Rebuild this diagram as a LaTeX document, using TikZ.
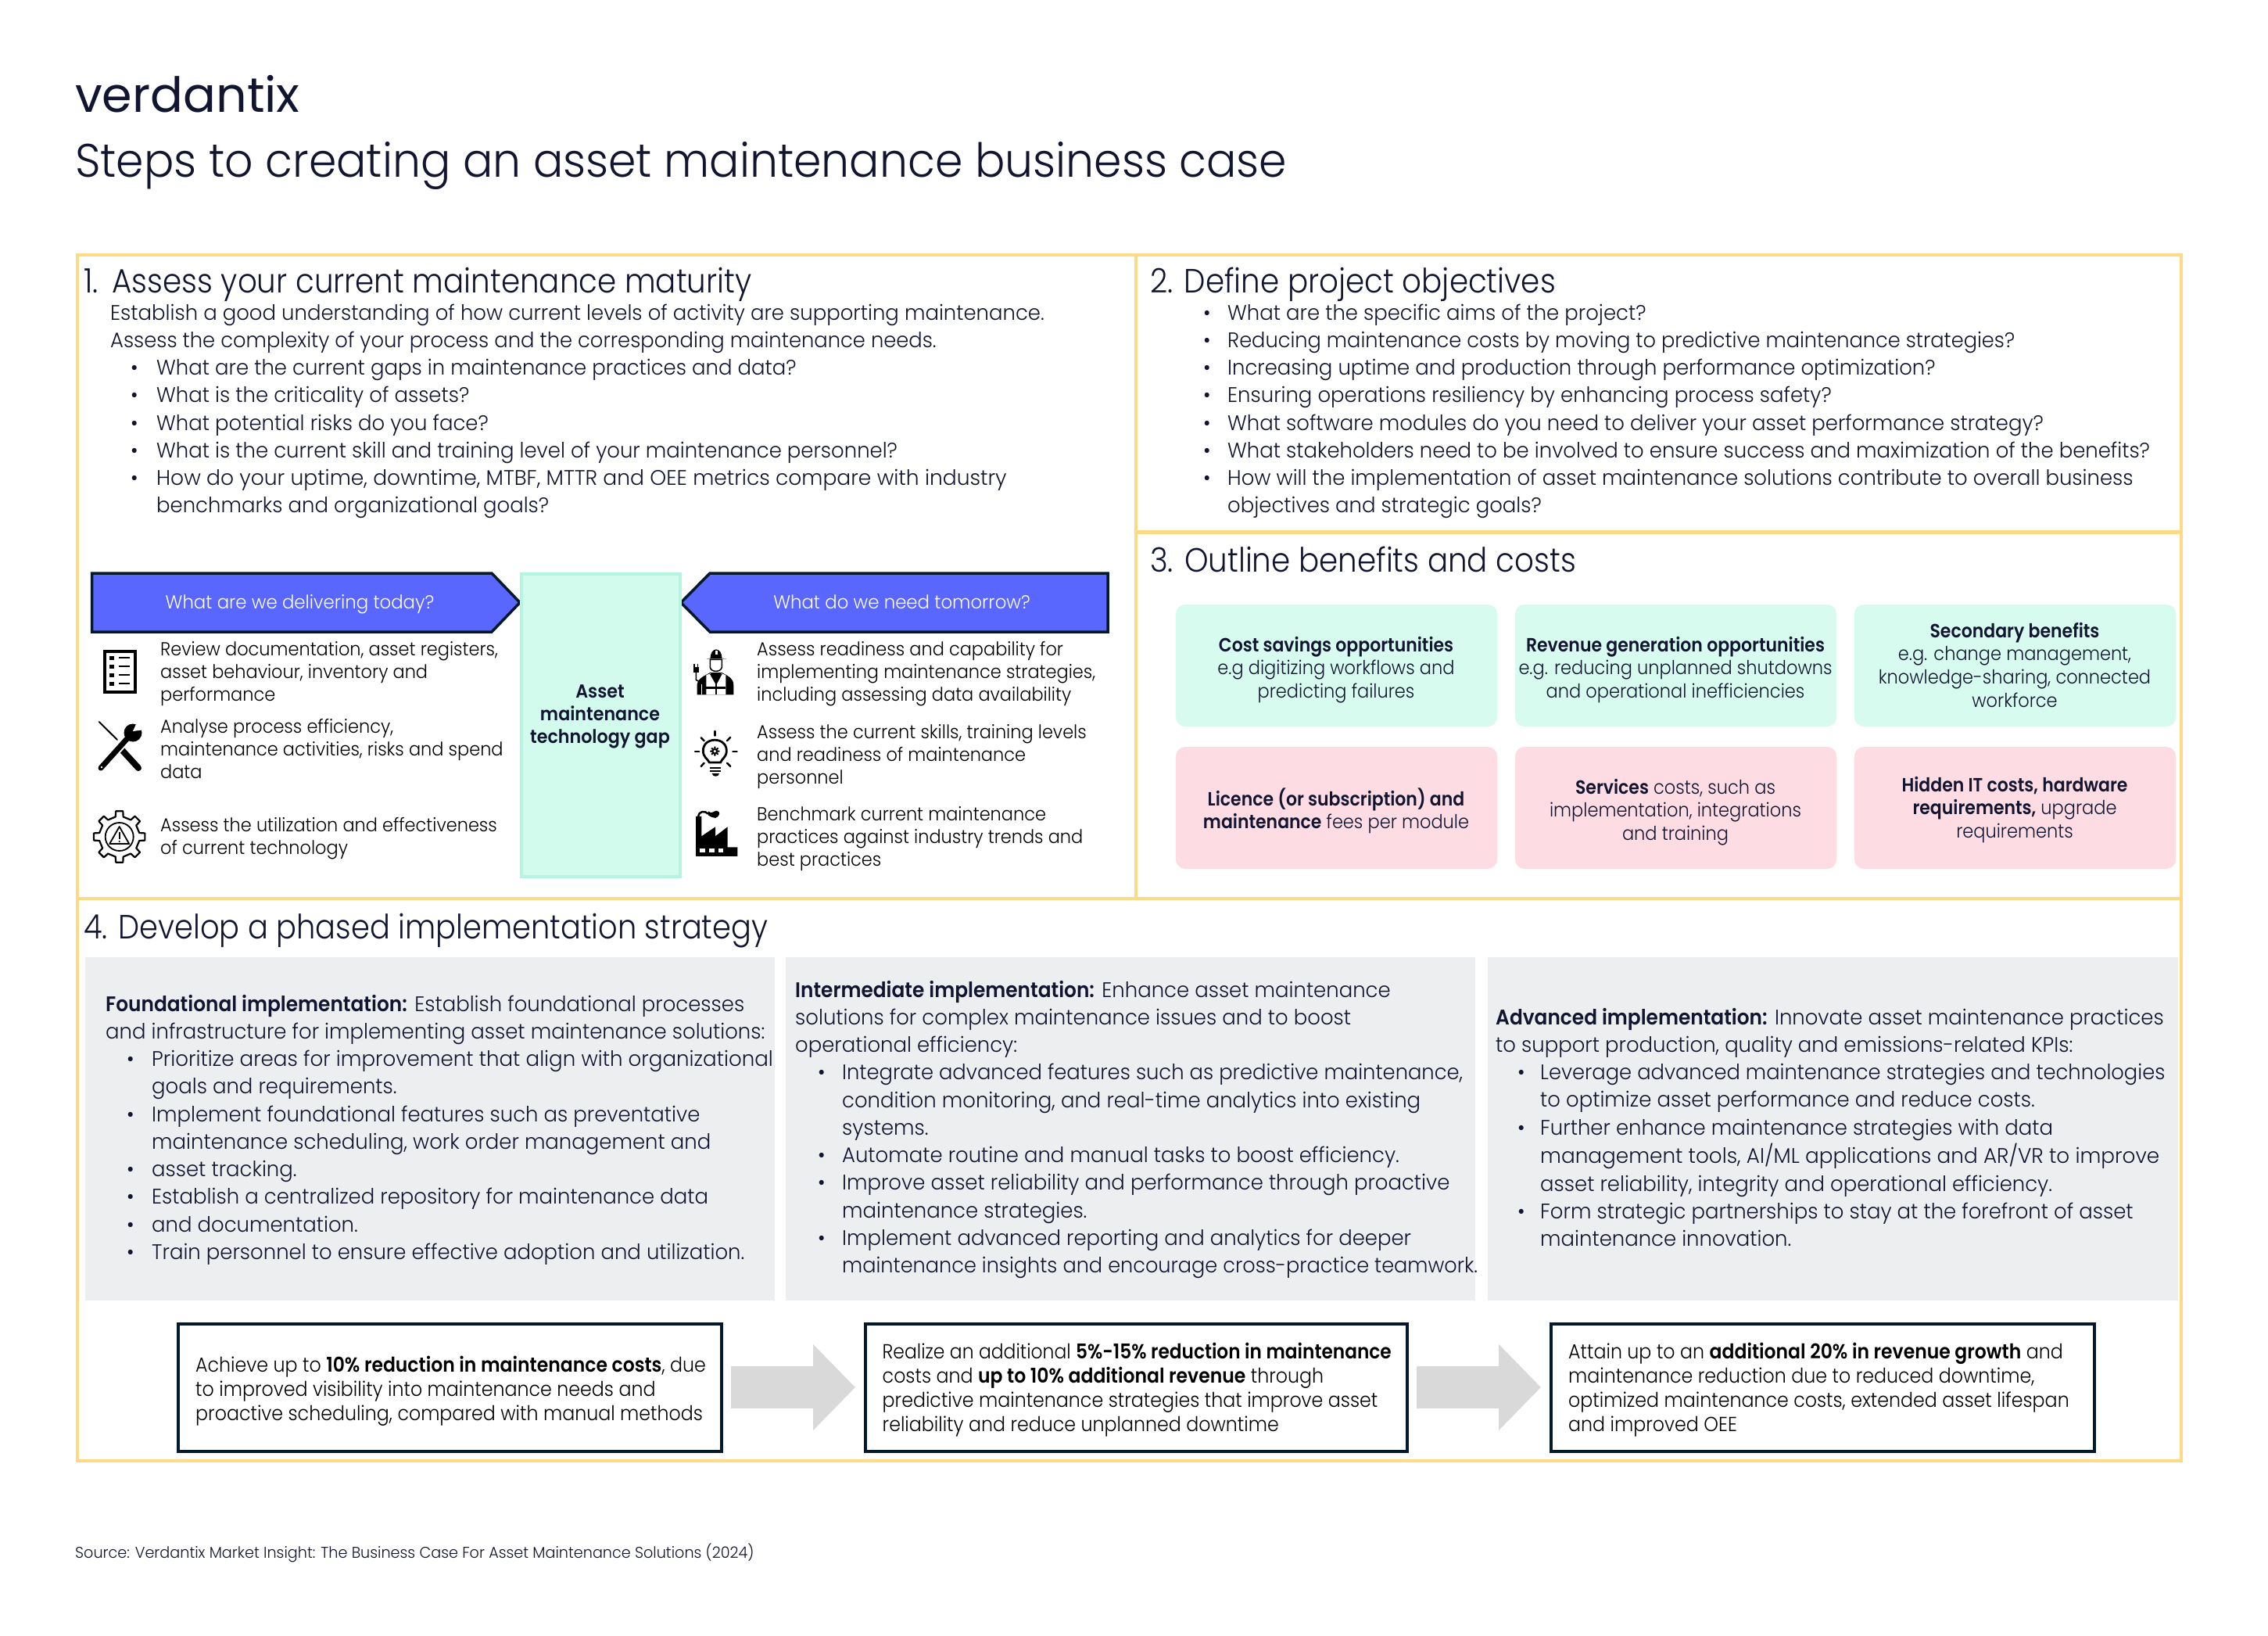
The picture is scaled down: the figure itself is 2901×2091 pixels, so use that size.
\documentclass[tikz,border=0pt]{standalone}
\usepackage{fontspec}
\usepackage{graphicx}
\usetikzlibrary{arrows.meta}
\setmainfont{Poppins}[UprightFont=* Light,BoldFont=* SemiBold,FakeStretch=0.96,BoldFeatures={FakeStretch=0.92}]
\newfontfamily\logofont{Poppins}[FakeStretch=1.0]
\newfontfamily\fTitle{Poppins}[UprightFont=* Light,FakeStretch=0.948]
\newfontfamily\fHead{Poppins}[UprightFont=* Light,FakeStretch=0.903]
\newfontfamily\fSmall{Poppins}[UprightFont=* Light,BoldFont=* SemiBold,FakeStretch=0.935,BoldFeatures={FakeStretch=0.926}]
\newfontfamily\fHdr{Poppins}[UprightFont=* Light,FakeStretch=0.952]
\newfontfamily\fCard{Poppins}[UprightFont=* Light,BoldFont=* SemiBold,FakeStretch=0.918,BoldFeatures={FakeStretch=0.898}]
\newfontfamily\fBox{Poppins}[UprightFont=* Light,BoldFont=* SemiBold,FakeStretch=0.912,BoldFeatures={FakeStretch=0.904}]
\newfontfamily\fSrc{Poppins}[UprightFont=* Light,FakeStretch=0.96]
\definecolor{ink}{HTML}{11152F}
\definecolor{frameY}{HTML}{FFD985}
\definecolor{hdrblue}{HTML}{5A67FF}
\definecolor{hdrline}{HTML}{04192B}
\definecolor{gapfill}{HTML}{D2FBEE}
\definecolor{gapline}{HTML}{B5F5E0}
\definecolor{cardG}{HTML}{D8FBEF}
\definecolor{cardP}{HTML}{FEDCE4}
\definecolor{panelG}{HTML}{EDEEF0}
\definecolor{arrG}{HTML}{D9D9D9}
\newcommand\Lb[1]{\hbox{\strut #1}}
\newcommand\Bl[1]{\hbox{\strut\hbox to \bulletgap{\textbullet\hss}#1}}
\newcommand\Cn[1]{\hbox{\strut\hskip\bulletgap #1}}
\newcommand\Cc[1]{\hbox to 0pt{\hss\strut #1\hss}}
\newcommand\Sx[2]{\scalebox{#1}[1]{#2}}
\newcommand\fsBody{\fontsize{27}{35.25}\selectfont}
\newcommand\fsHead{\fHead\fontsize{43}{50}\selectfont}
\newcommand\fsSmall{\fSmall\fontsize{24}{29.3}\selectfont}
\newcommand\fsHdr{\fHdr\fontsize{24}{29.3}\selectfont}
\newcommand\fsCard{\fCard\fontsize{24.5}{29.8}\selectfont}
\newcommand\fsBox{\fBox\fontsize{26}{31}\selectfont}
\newdimen\bulletgap
\tikzset{
  txt/.style={anchor=base west,inner sep=0pt,text=ink},
  ctr/.style={anchor=base,inner sep=0pt,text=ink},
  panel/.style={fill=panelG,draw=none,inner sep=0pt},
  cardg/.style={fill=cardG,draw=none,rounded corners=12pt,inner sep=0pt,minimum width=411pt,minimum height=156pt},
  cardp/.style={fill=cardP,draw=none,rounded corners=12pt,inner sep=0pt,minimum width=411pt,minimum height=156pt},
  resbox/.style={draw=hdrline,line width=4pt,fill=white,inner sep=0pt,minimum height=163pt},
  frameln/.style={draw=frameY,line width=4.5pt},
  hdrshape/.style={fill=hdrblue,draw=hdrline,line width=3.5pt,miter limit=8},
  blockarr/.style={draw=arrG,line width=53.7pt,-{Triangle[length=54pt 0 0,width=107pt 0 0,fill=arrG]}},
}
\begin{document}
\begin{tikzpicture}[x=1pt,y=-1pt]
\useasboundingbox (0,0) rectangle (2901,2091);
\fill[white] (0,0) rectangle (2901,2091);
% title
\node[txt,font=\logofont\fontsize{62}{62}\selectfont] (logo) at (96,143) {verdantix};
\node[txt,font=\fTitle\fontsize{60}{70}\selectfont] (title) at (96,226) {Steps to creating an asset maintenance business case};
% frame
\draw[frameln] (99,326) rectangle (2790,1868);
\draw[frameln] (1453,326) -- (1453,1149);
\draw[frameln] (1453,680.5) -- (2790,680.5);
\draw[frameln] (99,1149) -- (2790,1149);
% section headings
\node[txt,font=\fsHead] (h1) at (107,374) {1.\hskip 18pt Assess your current maintenance maturity};
\node[txt,font=\fsHead] (h2) at (1471,374) {2. Define project objectives};
\node[txt,font=\fsHead] (h3) at (1471,731) {3. Outline benefits and costs};
\node[txt,font=\fsHead] (h4) at (107,1200) {\Sx{0.988}{4. Develop a phased implementation strategy}};
% section 1 text
\bulletgap=59pt
\node[txt,font=\fsBody] (s1) at (141,409) {\vtop{
 \Lb{Establish a good understanding of how current levels of activity are supporting maintenance.}
 \Lb{\Sx{0.995}{Assess the complexity of your process and the corresponding maintenance needs.}}
 \Lb{\hskip 26pt\hbox to 33pt{\textbullet\hss}What are the current gaps in maintenance practices and data?}
 \Lb{\hskip 26pt\hbox to 33pt{\textbullet\hss}What is the criticality of assets?}
 \Lb{\hskip 26pt\hbox to 33pt{\textbullet\hss}What potential risks do you face?}
 \Lb{\hskip 26pt\hbox to 33pt{\textbullet\hss}What is the current skill and training level of your maintenance personnel?}
 \Lb{\hskip 26pt\hbox to 33pt{\textbullet\hss}\Sx{1.024}{How do your uptime, downtime, MTBF, MTTR and OEE metrics compare with industry}}
 \Lb{\hskip 59pt benchmarks and organizational goals?}}};
% section 2 text
\bulletgap=31pt
\node[txt,font=\fsBody] (s2) at (1539,409) {\vtop{
 \Bl{What are the specific aims of the project?}
 \Bl{\Sx{0.99}{Reducing maintenance costs by moving to predictive maintenance strategies?}}
 \Bl{Increasing uptime and production through performance optimization?}
 \Bl{Ensuring operations resiliency by enhancing process safety?}
 \Bl{What software modules do you need to deliver your asset performance strategy?}
 \Bl{What stakeholders need to be involved to ensure success and maximization of the benefits?}
 \Bl{How will the implementation of asset maintenance solutions contribute to overall business}
 \Cn{objectives and strategic goals?}}};
% header arrows
\draw[hdrshape] (117.5,733) -- (629,733) -- (665,770.5) -- (629,808) -- (117.5,808) -- cycle;
\draw[hdrshape] (1417,733) -- (908,733) -- (871,770.5) -- (908,808) -- (1417,808) -- cycle;
\node[ctr,text=white,font=\fsHdr] (today) at (383.5,778) {What are we delivering today?};
\node[ctr,text=white,font=\fsHdr] (tomorrow) at (1153.5,778) {What do we need tomorrow?};
% gap column
\node[fill=gapfill,draw=gapline,line width=4pt,inner sep=0pt,minimum width=203pt,minimum height=387pt] (gap) at (768.5,927.5) {};
\node[ctr,font=\fsSmall\bfseries] (gaptxt) at (767.5,892) {\vtop{\Cc{Asset}\Cc{maintenance}\Cc{technology gap}}};
% left column texts
\node[txt,text=black,font=\fsSmall] (l1) at (205,838) {\vtop{\Lb{Review documentation, asset registers,}\Lb{asset behaviour, inventory and}\Lb{performance}}};
\node[txt,text=black,font=\fsSmall] (l2) at (205,937) {\vtop{\Lb{Analyse process efficiency,}\Lb{maintenance activities, risks and spend}\Lb{data}}};
\node[txt,text=black,font=\fsSmall] (l3) at (205,1063) {\vtop{\Lb{Assess the utilization and effectiveness}\Lb{of current technology}}};
\node[txt,text=black,font=\fsSmall] (r1) at (968,838) {\vtop{\Lb{Assess readiness and capability for}\Lb{implementing maintenance strategies,}\Lb{including assessing data availability}}};
\node[txt,text=black,font=\fsSmall] (r2) at (968,944) {\vtop{\Lb{Assess the current skills, training levels}\Lb{and readiness of maintenance}\Lb{personnel}}};
\node[txt,text=black,font=\fsSmall] (r3) at (968,1049) {\vtop{\Lb{Benchmark current maintenance}\Lb{practices against industry trends and}\Lb{best practices}}};
% icon: list
\draw[black,line width=4pt] (133.5,832.5) rectangle (173,885);
\foreach \yy in {841,852,863,874}{
  \fill[black] (140,\yy-2.5) rectangle (146,\yy+2.5);
  \fill[black] (151.5,\yy-1) rectangle (166,\yy+1);
}
% icon: tools
\draw[black,line width=2pt,line cap=round] (126.7,923) -- (150,946);
\draw[black,line width=8pt,line cap=round] (156,959) -- (177,982);
\draw[white,line width=11pt] (130,981) -- (164,943);
\draw[black,line width=7pt,line cap=round] (129,982) -- (164,943);
\fill[black] (170,937) circle (11.5);
\fill[white] (170,935) -- (178,917) -- (193,932) -- cycle;
\fill[white] (130,981) circle (1.3);
% icon: gear
\begin{scope}[shift={(152.7,1070)}]
  \draw[black,line width=2.2pt,line join=round] (-11:26)
    \foreach \a in {0,45,...,315}{ -- (\a-11:26) -- (\a-8:33) -- (\a+8:33) -- (\a+11:26) } -- cycle;
  \draw[black,line width=1.8pt] (0,0) circle (18);
  \draw[black,line width=1.8pt,line join=round] (0,-13) -- (12.5,9) -- (-12.5,9) -- cycle;
  \draw[black,line width=1.8pt] (0,-6.5) -- (0,3);
  \fill[black] (0,6) circle (1.2);
\end{scope}
% icon: worker
\begin{scope}[shift={(880,810)},x=0.3333pt,y=-0.3333pt]
  \fill[black] (35,235) -- (35,195) .. controls (40,170) and (60,165) .. (85,150) -- (130,150) .. controls (155,165) and (175,170) .. (175,200) -- (175,235) -- cycle;
  \draw[black,fill=white,line width=1.5pt] (85,100) -- (85,130) .. controls (88,150) and (126,150) .. (130,130) -- (130,100) -- cycle;
  \fill[black] (86,95) .. controls (86,50) and (130,50) .. (130,95) -- (148,97) -- (70,97) -- cycle;
  \fill[white] (105,65) rectangle (113,82);
  \fill[white] (70,160) -- (87,153) -- (108,190) -- (128,153) -- (145,160) -- (145,235) -- (70,235) -- cycle;
  \draw[black,line width=2pt] (87,155) -- (108,192) -- (128,155);
  \draw[black,line width=2.5pt] (108,192) -- (108,235);
  \draw[black,line width=2.5pt] (70,208) -- (145,208);
  \fill[black] (20,130) rectangle (42,150);
  \fill[black] (22,118) rectangle (27,130);
  \fill[black] (35,118) rectangle (40,130);
  \draw[black,line width=1.6pt] (31,150) -- (31,178) -- (45,186);
  \fill[black] (45,185) rectangle (58,235);
  \fill[white] (50,195) rectangle (55,235);
\end{scope}
% icon: bulb
\begin{scope}[shift={(880,810)},x=0.3333pt,y=-0.3333pt]
  \draw[black,line width=2.8pt] (82,495) .. controls (75,480) and (58,475) .. (58,450) .. controls (58,395) and (148,395) .. (148,450) .. controls (148,475) and (130,480) .. (125,495) -- cycle;
  \foreach \a in {0,45,...,315}{\fill[black] (103,452) ++(\a:15) circle (4);}
  \fill[black] (103,452) circle (13);
  \fill[white] (103,452) circle (5.5);
  \draw[black,line width=2.4pt,line cap=round] (103,375) -- (103,392);
  \draw[black,line width=2.4pt,line cap=round] (50,400) -- (62,412);
  \draw[black,line width=2.4pt,line cap=round] (163,398) -- (150,412);
  \draw[black,line width=2.4pt,line cap=round] (27,453) -- (43,453);
  \draw[black,line width=2.4pt,line cap=round] (172,453) -- (188,453);
  \draw[black,line width=2.4pt,line cap=round] (50,510) -- (62,497);
  \draw[black,line width=2.4pt,line cap=round] (163,510) -- (150,497);
  \draw[black,line width=2pt] (85,515) -- (125,515);
  \draw[black,line width=2pt] (85,528) -- (125,528);
  \fill[black] (92,537) -- (120,537) .. controls (118,552) and (95,552) .. (92,537) -- cycle;
\end{scope}
% icon: factory
\begin{scope}[shift={(880,810)},x=0.3333pt,y=-0.3333pt]
  \fill[black] (30,855) -- (30,702) -- (52,702) -- (52,778) -- (105,742) -- (105,778) -- (152,742) -- (152,820) -- (190,820) -- (190,855) -- cycle;
  \draw[black,line width=2.5pt] (40,702) .. controls (42,680) and (65,680) .. (78,692);
  \fill[black] (78,682) .. controls (90,695) and (100,680) .. (110,680) .. controls (125,682) and (125,700) .. (105,708) .. controls (95,708) and (85,702) .. (78,698) -- cycle;
  \fill[white] (46,826) rectangle (66,841);
  \fill[white] (81,826) rectangle (101,841);
  \fill[white] (116,826) rectangle (136,841);
\end{scope}
% cards
\node[cardg] (c1) at (1709.5,851) {};
\node[cardg] (c2) at (2143.5,851) {};
\node[cardg] (c3) at (2577.5,851) {};
\node[cardp] (c4) at (1709.5,1033) {};
\node[cardp] (c5) at (2143.5,1033) {};
\node[cardp] (c6) at (2577.5,1033) {};
\node[ctr,font=\fsCard] (t1) at (1709,833) {\vtop{\Cc{\textbf{Cost savings opportunities}}\Cc{e.g digitizing workflows and}\Cc{predicting failures}}};
\node[ctr,font=\fsCard] (t2) at (2143,833) {\vtop{\Cc{\textbf{Revenue generation opportunities}}\Cc{e.g. reducing unplanned shutdowns}\Cc{and operational inefficiencies}}};
\node[ctr,font=\fsCard] (t3) at (2577,815) {\vtop{\Cc{\textbf{Secondary benefits}}\Cc{e.g. change management,}\Cc{knowledge-sharing, connected}\Cc{workforce}}};
\node[ctr,font=\fsCard] (t4) at (1709,1030) {\vtop{\Cc{\textbf{Licence (or subscription) and}}\Cc{\textbf{maintenance} fees per module}}};
\node[ctr,font=\fsCard] (t5) at (2143,1015) {\vtop{\Cc{\textbf{Services} costs, such as}\Cc{implementation, integrations}\Cc{and training}}};
\node[ctr,font=\fsCard] (t6) at (2577,1012) {\vtop{\Cc{\textbf{Hidden IT costs, hardware}}\Cc{\textbf{requirements,} upgrade}\Cc{requirements}}};
% grey panels
\node[panel,minimum width=882.5pt,minimum height=438.7pt] (p1) at (549.75,1443.35) {};
\node[panel,minimum width=882pt,minimum height=438.7pt] (p2) at (1446,1443.35) {};
\node[panel,minimum width=883pt,minimum height=438.7pt] (p3) at (2344.5,1443.35) {};
\node[txt,font=\fsBody] (pt1) at (135,1293) {\vtop{
 \Lb{\textbf{Foundational implementation:} Establish foundational processes}
 \Lb{and infrastructure for implementing asset maintenance solutions:}
 \Lb{\hskip 27pt\hbox to 32pt{\textbullet\hss}\Sx{1.007}{Prioritize areas for improvement that align with organizational}}
 \Lb{\hskip 59pt goals and requirements.}
 \Lb{\hskip 27pt\hbox to 32pt{\textbullet\hss}Implement foundational features such as preventative}
 \Lb{\hskip 59pt maintenance scheduling, work order management and}
 \Lb{\hskip 27pt\hbox to 32pt{\textbullet\hss}asset tracking.}
 \Lb{\hskip 27pt\hbox to 32pt{\textbullet\hss}Establish a centralized repository for maintenance data}
 \Lb{\hskip 27pt\hbox to 32pt{\textbullet\hss}and documentation.}
 \Lb{\hskip 27pt\hbox to 32pt{\textbullet\hss}Train personnel to ensure effective adoption and utilization.}}};
\node[txt,font=\fsBody] (pt2) at (1017,1275) {\vtop{
 \Lb{\textbf{Intermediate implementation:} Enhance asset maintenance}
 \Lb{solutions for complex maintenance issues and to boost}
 \Lb{operational efficiency:}
 \Lb{\hskip 29pt\hbox to 31pt{\textbullet\hss}\Sx{0.995}{Integrate advanced features such as predictive maintenance,}}
 \Lb{\hskip 60pt condition monitoring, and real-time analytics into existing}
 \Lb{\hskip 60pt systems.}
 \Lb{\hskip 29pt\hbox to 31pt{\textbullet\hss}Automate routine and manual tasks to boost efficiency.}
 \Lb{\hskip 29pt\hbox to 31pt{\textbullet\hss}Improve asset reliability and performance through proactive}
 \Lb{\hskip 60pt maintenance strategies.}
 \Lb{\hskip 29pt\hbox to 31pt{\textbullet\hss}Implement advanced reporting and analytics for deeper}
 \Lb{\hskip 60pt \Sx{0.987}{maintenance insights and encourage cross-practice teamwork.}}}};
\node[txt,font=\fsBody] (pt3) at (1913,1310) {\vtop{
 \Lb{\textbf{Advanced implementation:} Innovate asset maintenance practices}
 \Lb{to support production, quality and emissions-related KPIs:}
 \Lb{\hskip 28pt\hbox to 29pt{\textbullet\hss}\Sx{0.993}{Leverage advanced maintenance strategies and technologies}}
 \Lb{\hskip 57pt to optimize asset performance and reduce costs.}
 \Lb{\hskip 28pt\hbox to 29pt{\textbullet\hss}Further enhance maintenance strategies with data}
 \Lb{\hskip 57pt \Sx{1.014}{management tools, AI/ML applications and AR/VR to improve}}
 \Lb{\hskip 57pt asset reliability, integrity and operational efficiency.}
 \Lb{\hskip 28pt\hbox to 29pt{\textbullet\hss}Form strategic partnerships to stay at the forefront of asset}
 \Lb{\hskip 57pt maintenance innovation.}}};
% result boxes
\node[resbox,minimum width=695pt] (b1) at (575.5,1774) {};
\node[resbox,minimum width=693pt] (b2) at (1453.5,1774) {};
\node[resbox,minimum width=695pt] (b3) at (2331.5,1774) {};
\draw[blockarr] ([xshift=10pt]b1.east) -- ([xshift=-11pt]b2.west);
\draw[blockarr] ([xshift=10pt]b2.east) -- ([xshift=-11pt]b3.west);
\node[txt,text=black,font=\fsBox] (bt1) at (250,1754.5) {\vtop{\Lb{Achieve up to \textbf{10\% reduction in maintenance costs}, due}\Lb{to improved visibility into maintenance needs and}\Lb{proactive scheduling, compared with manual methods}}};
\node[txt,text=black,font=\fsBox] (bt2) at (1128.5,1737) {\vtop{\Lb{\Sx{0.989}{Realize an additional \textbf{5\%-15\% reduction in maintenance}}}\Lb{costs and \textbf{up to 10\% additional revenue} through}\Lb{predictive maintenance strategies that improve asset}\Lb{reliability and reduce unplanned downtime}}};
\node[txt,text=black,font=\fsBox] (bt3) at (2006,1737) {\vtop{\Lb{Attain up to an \textbf{additional 20\% in revenue growth} and}\Lb{maintenance reduction due to reduced downtime,}\Lb{optimized maintenance costs, extended asset lifespan}\Lb{and improved OEE}}};
% source
\node[txt,font=\fSrc\fontsize{20}{24}\selectfont] (src) at (96,1992) {Source: Verdantix Market Insight: The Business Case For Asset Maintenance Solutions (2024)};
\end{tikzpicture}
\end{document}
